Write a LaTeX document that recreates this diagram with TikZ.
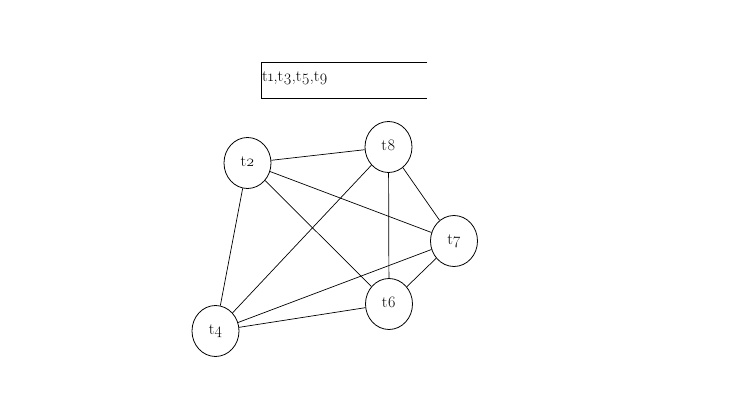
\documentclass[tikz,border=0pt]{standalone}
\usepackage{fontspec}
\setmainfont{Latin Modern Roman}[Numbers=OldStyle]
\usetikzlibrary{shapes.geometric}
\begin{document}
\begin{tikzpicture}[x=1pt,y=-1pt,
  tnode/.style={draw,ellipse,line width=0.8pt,minimum width=47pt,minimum height=51pt,inner sep=0pt,font=\fontsize{16}{18}\selectfont},
  edge/.style={draw,line width=0.7pt},
  lbl/.style={font=\fontsize{16}{18}\selectfont,inner sep=0pt,anchor=west}]
\useasboundingbox (0,0) rectangle (732,420);
\draw[line width=0.8pt] (427,62) -- (261,62) -- (261,98) -- (427,98);
\node[lbl] (set) at (262,78) {t1,t3,t5,t9};
\node[tnode] (t2) at (247.5,163) {\raisebox{3pt}{t2}};
\node[tnode] (t8) at (388.5,147) {\raisebox{4pt}{t8}};
\node[tnode] (t7) at (454,241) {\raisebox{3pt}{t7}};
\node[tnode] (t6) at (389,304) {\raisebox{3pt}{t6}};
\node[tnode] (t4) at (215.5,331) {\raisebox{3pt}{t4}};
\path[edge] (t2) -- (t8);
\path[edge] (t2) -- (t7);
\path[edge] (t2) -- (t6);
\path[edge] (t2) -- (t4);
\path[edge] (t8) -- (t4);
\path[edge] (t8) -- (t6);
\path[edge] (t8) -- (t7);
\path[edge] (t7) -- (t4);
\path[edge] (t7) -- (t6);
\path[edge] (t6) -- (t4);
\end{tikzpicture}
\end{document}
